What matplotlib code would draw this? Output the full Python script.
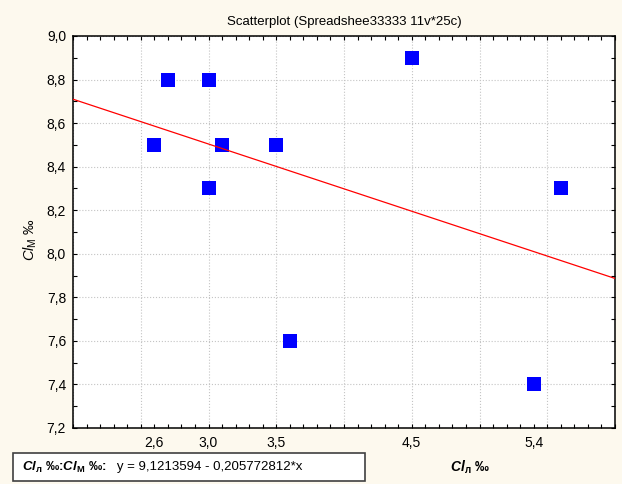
import matplotlib
matplotlib.use("Agg")
import matplotlib.pyplot as plt
import numpy as np
from matplotlib.patches import Rectangle
from matplotlib.text import Annotation
from matplotlib.ticker import FuncFormatter, MultipleLocator

plt.rcParams['font.family'] = ['Liberation Sans', 'DejaVu Sans']
plt.rcParams['mathtext.fontset'] = 'custom'
plt.rcParams['mathtext.rm'] = 'Liberation Sans'
plt.rcParams['mathtext.it'] = 'Liberation Sans:italic'
plt.rcParams['mathtext.bf'] = 'Liberation Sans:bold'
plt.rcParams['mathtext.bfit'] = 'Liberation Sans:italic:bold'

# data
cl_l = [2.6, 2.7, 3.0, 3.0, 3.1, 3.5, 3.6, 4.5, 5.4, 5.6]
cl_m = [8.5, 8.8, 8.8, 8.3, 8.5, 8.5, 7.6, 8.9, 7.4, 8.3]
x_labels = [2.6, 3.0, 3.5, 4.5, 5.4]
intercept = 9.1213594
slope = -0.205772812

bg = '#fdf9ee'
comma = FuncFormatter(lambda v, p: ('%.1f' % v).replace('.', ','))

fig = plt.figure(figsize=(6.22, 4.84), dpi=100, facecolor=bg)
ax = fig.add_axes([73 / 622, 56 / 484, 542 / 622, 392 / 484])
ax.set_facecolor('white')

ax.set_xlim(2.0, 6.0)
ax.set_ylim(7.2, 9.0)

# regression line
xs = np.array(ax.get_xlim())
ax.plot(xs, intercept + slope * xs, color='red', lw=0.9, zorder=4)
ax.plot(cl_l, cl_m, 's', color='#0000ff', ms=9.5, mew=0, zorder=3)

# grid every 0.5 on x, every 0.2 on y
ax.xaxis.set_major_locator(MultipleLocator(0.5))
ax.xaxis.set_minor_locator(MultipleLocator(0.1))
ax.yaxis.set_major_locator(MultipleLocator(0.2))
ax.yaxis.set_minor_locator(MultipleLocator(0.1))
ax.yaxis.set_major_formatter(comma)
ax.tick_params(axis='x', which='both', labelbottom=False)
ax.tick_params(which='both', direction='in', top=True, right=True,
               length=3, width=0.8)
ax.tick_params(axis='y', which='major', labelsize=10, pad=5)
ax.grid(True, which='major', color='#c4c4c4', ls=':', lw=0.8)
for s in ax.spines.values():
    s.set_linewidth(1.1)

# x labels sit at observed values
sec = ax.secondary_xaxis('bottom')
sec.set_xticks(x_labels)
sec.xaxis.set_major_formatter(comma)
sec.tick_params(length=0, labelsize=10, pad=6)
sec.spines['bottom'].set_visible(False)

ax.set_title('Scatterplot (Spreadshee33333 11v*25c)', fontsize=9.5, pad=8)
fig.text(30 / 622, 1 - 240 / 484, r'$\mathit{Cl}_{\mathrm{М}}$ ‰', rotation=90,
         ha='center', va='center', fontsize=10.5)
fig.text(470 / 622, 1 - 467 / 484, r'$\mathbfit{Cl}_{\mathbf{л}}$ ‰',
         ha='center', va='center', fontsize=10, fontweight='bold')

# equation box
fig.patches.append(Rectangle((13 / 622, 3 / 484), 352 / 622, 28 / 484,
                             transform=fig.transFigure, facecolor='white',
                             edgecolor='#404040', lw=1.2, zorder=1))
t1 = fig.text(22 / 622, 1 - 467 / 484,
              r'$\mathbfit{Cl}_{\mathbf{л}}$ ‰:$\mathbfit{Cl}_{\mathbf{М}}$ ‰:',
              ha='left', va='center', fontsize=9.5, fontweight='bold', zorder=3)
eq = Annotation('   y = 9,1213594 - 0,205772812*x', xy=(1, 0.5), xycoords=t1,
                ha='left', va='center', fontsize=9.5, zorder=3)
fig.add_artist(eq)

fig.savefig('out.png', dpi=100, facecolor=bg)
